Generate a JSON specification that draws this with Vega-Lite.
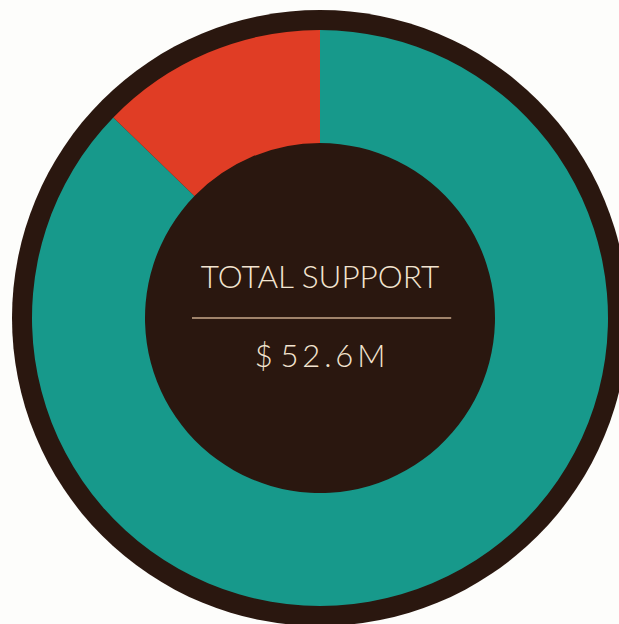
{
  "$schema": "https://vega.github.io/schema/vega-lite/v6.json",
  "width": 640,
  "height": 636,
  "padding": {"left": 0, "top": 0, "right": 0, "bottom": 0},
  "background": "#fdfdfb",
  "config": {"view": {"stroke": null}},
  "layer": [
    {
      "data": {"values": [{"total": 52.6}]},
      "mark": {"type": "arc", "radius": 308, "color": "#2a170f"},
      "encoding": {"theta": {"field": "total", "type": "quantitative"}}
    },
    {
      "data": {"values": [
        {"category": "Other support", "amount": 45.9, "rank": 1},
        {"category": "Highlighted support", "amount": 6.7, "rank": 2}
      ]},
      "mark": {"type": "arc", "radius": 288, "radius2": 175},
      "encoding": {
        "theta": {"field": "amount", "type": "quantitative", "stack": true},
        "order": {"field": "rank", "type": "quantitative"},
        "color": {
          "field": "category",
          "type": "nominal",
          "scale": {"domain": ["Other support", "Highlighted support"], "range": ["#17998b", "#e03d25"]},
          "legend": null
        }
      }
    },
    {
      "data": {"values": [{"x1": -0.4, "x2": 0.41, "y": 0}]},
      "mark": {"type": "rule", "color": "#c9a98b", "strokeWidth": 1.5},
      "encoding": {
        "x": {"field": "x1", "type": "quantitative", "scale": {"domain": [-1, 1]}, "axis": null},
        "x2": {"field": "x2"},
        "y": {"field": "y", "type": "quantitative", "scale": {"domain": [-1, 1]}, "axis": null}
      }
    },
    {
      "data": {"values": [{"label": "TOTAL SUPPORT"}]},
      "mark": {"type": "text", "font": "Lato", "fontWeight": 300, "fontSize": 31.5, "color": "#f3e4d0", "baseline": "alphabetic", "align": "center", "dy": -30},
      "encoding": {"text": {"field": "label", "type": "nominal"}}
    },
    {
      "data": {"values": [{"label": "$\u2009\u20095\u20092\u2009.\u20096\u2009M"}]},
      "mark": {"type": "text", "font": "Lato", "fontWeight": 300, "fontSize": 31, "color": "#f3e4d0", "baseline": "alphabetic", "align": "center", "dy": 49},
      "encoding": {"text": {"field": "label", "type": "nominal"}}
    }
  ],
  "resolve": {"scale": {"theta": "independent"}}
}
